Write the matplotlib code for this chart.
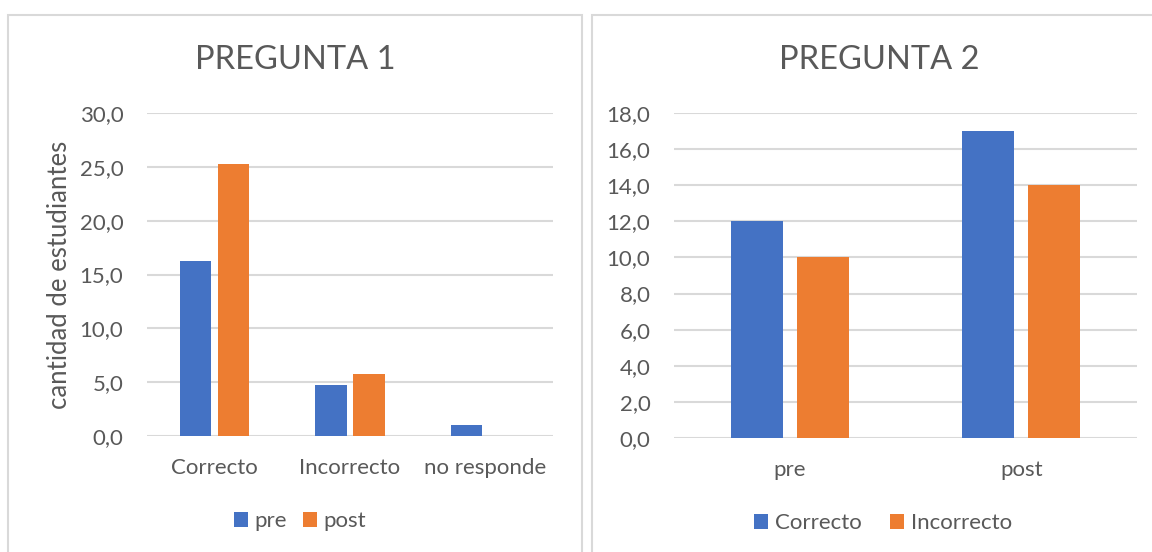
import matplotlib.pyplot as plt
from matplotlib.patches import Rectangle
import numpy as np

# datos pregunta 1
cat1 = ['Correcto', 'Incorrecto', 'no responde']
pre1 = [16.3, 4.7, 1.0]
post1 = [25.3, 5.8, 0.0]

# datos pregunta 2
cat2 = ['pre', 'post']
correcto2 = [12.0, 17.0]
incorrecto2 = [10.0, 14.0]

azul = '#4472C4'
naranja = '#ED7D31'
gris_txt = '#595959'
gris_lin = '#D9D9D9'

plt.rcParams['font.family'] = ['Lato', 'DejaVu Sans']

W, H = 1152, 552
fig = plt.figure(figsize=(W / 100, H / 100), dpi=100)

# marcos de los graficos (en pixeles)
for x0, x1 in [(8, 582), (592, 1170)]:
    fig.patches.append(Rectangle((x0 / W, -0.1), (x1 - x0) / W, 1 - 14.5 / H + 0.1,
                                 transform=fig.transFigure, fill=False,
                                 edgecolor=gris_lin, linewidth=1.5))


def estilo(ax, ymax, paso):
    ax.set_ylim(0, ymax)
    ax.set_yticks(np.arange(0, ymax + 0.01, paso))
    ax.set_yticklabels([f'{v:.1f}'.replace('.', ',') for v in np.arange(0, ymax + 0.01, paso)])
    ax.grid(axis='y', color=gris_lin, linewidth=1.5)
    ax.set_axisbelow(True)
    for s in ax.spines.values():
        s.set_visible(False)
    ax.tick_params(axis='both', length=0, colors=gris_txt, labelsize=16)
    ax.tick_params(axis='y', pad=17)
    ax.tick_params(axis='x', pad=16)


# pregunta 1
ax1 = fig.add_axes([147 / W, 1 - 436 / H, 406 / W, 323 / H])
x = np.arange(len(cat1))
w = 0.23
ax1.bar(x - 0.14, pre1, w, color=azul, label='pre')
ax1.bar(x + 0.14, post1, w, color=naranja, label='post')
ax1.set_xlim(-0.5, len(cat1) - 0.5)
ax1.set_xticks(x)
ax1.set_xticklabels(cat1)
estilo(ax1, 30, 5)
fig.text(295 / W, 1 - 60 / H, 'PREGUNTA 1', fontsize=23.5, color=gris_txt, ha='center', va='center')
fig.text(60 / W, 1 - 275 / H, 'cantidad de estudiantes', fontsize=18.5, color=gris_txt,
         rotation=90, ha='center', va='center')
ax1.legend(loc='center', bbox_to_anchor=(300 / W, 1 - 521 / H), bbox_transform=fig.transFigure,
           ncol=2, frameon=False, fontsize=16, labelcolor=gris_txt,
           handlelength=0.64, handleheight=0.64, handletextpad=0.3, columnspacing=0.7)

# pregunta 2
ax2 = fig.add_axes([674 / W, 1 - 438 / H, 463 / W, 325 / H])
x = np.arange(len(cat2))
w = 0.225
ax2.bar(x - 0.1425, correcto2, w, color=azul, label='Correcto')
ax2.bar(x + 0.1425, incorrecto2, w, color=naranja, label='Incorrecto')
ax2.set_xlim(-0.5, len(cat2) - 0.5)
ax2.set_xticks(x)
ax2.set_xticklabels(cat2)
estilo(ax2, 18, 2)
fig.text(879 / W, 1 - 60 / H, 'PREGUNTA 2', fontsize=23.5, color=gris_txt, ha='center', va='center')
ax2.legend(loc='center', bbox_to_anchor=(883 / W, 1 - 523 / H), bbox_transform=fig.transFigure,
           ncol=2, frameon=False, fontsize=16, labelcolor=gris_txt,
           handlelength=0.64, handleheight=0.64, handletextpad=0.3, columnspacing=1.3)

plt.savefig('out.png', dpi=100)
